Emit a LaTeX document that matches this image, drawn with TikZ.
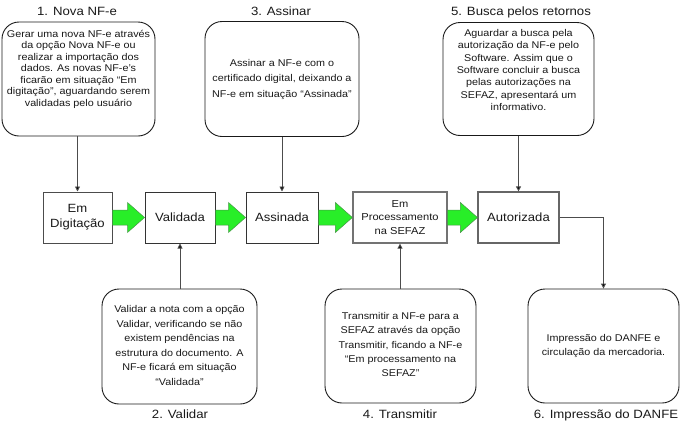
\documentclass[tikz,border=0pt]{standalone}
\usepackage{fontspec}
\setmainfont{Liberation Sans}[FakeStretch=1.1]
\usetikzlibrary{arrows.meta,calc}
\definecolor{arrowgreen}{RGB}{40,238,40}
\definecolor{arrowedge}{RGB}{70,150,70}
\definecolor{txt}{RGB}{25,25,25}
\tikzset{
  roundbox/.style={draw=black!90, line width=0.9pt, rounded corners=17pt, inner sep=0pt},
  statebox/.style={draw=black!80, line width=1pt, fill=white, align=center, inner sep=0pt,
                   text=txt, font=\fontsize{11.9}{15}\selectfont, minimum height=51pt},
  bodytext/.style={align=center, text=txt, inner sep=0pt},
  titletext/.style={anchor=base, text=txt, font=\fontsize{12}{14}\selectfont, inner sep=0pt},
  conn/.style={draw=black!70, line width=0.9pt, -{Triangle[length=5pt,width=5pt,fill=black]}},
  garrow/.style={fill=arrowgreen, draw=arrowedge, line width=0.5pt}
}
\newcommand{\greenarr}[2]{%
  \filldraw[garrow] ($(#1.east)+(0,-7.5)$) -- ($(#2.west)+(-17,-7.5)$) -- ($(#2.west)+(-17,-15)$)
    -- (#2.west) -- ($(#2.west)+(-17,15)$) -- ($(#2.west)+(-17,7.5)$) -- ($(#1.east)+(0,7.5)$) -- cycle;}
\begin{document}
\begin{tikzpicture}[x=1pt,y=-1pt]
\useasboundingbox (0,0) rectangle (681,426);

% titles
\node[titletext] (ti1) at (77,15) {1. Nova NF-e};
\node[titletext] (ti3) at (281,15) {3. Assinar};
\node[titletext] (ti5) at (521,15) {5. Busca pelos retornos};
\node[titletext] (ti2) at (180,418) {2. Validar};
\node[titletext] (ti4) at (400,418) {4. Transmitir};
\node[titletext] (ti6) at (606,418) {6. Impressão do DANFE};

% top boxes
\node[roundbox, minimum width=153pt, minimum height=114pt] (b1) at (78.5,79) {};
\node[bodytext, font=\fontsize{9.8}{11.5}\selectfont] (b1t) at (78.5,69) {Gerar uma nova NF-e através\\da opção Nova NF-e ou\\realizar a importação dos\\dados. As novas NF-e’s\\ficarão em situação “Em\\digitação”, aguardando serem\\validadas pelo usuário};
\node[roundbox, minimum width=154pt, minimum height=115pt] (b3) at (282,79) {};
\node[bodytext, font=\fontsize{9.8}{15.5}\selectfont] (b3t) at (282,79) {Assinar a NF-e com o\\certificado digital, deixando a\\NF-e em situação “Assinada”};
\node[roundbox, minimum width=151pt, minimum height=113pt] (b5) at (518.5,79) {};
\node[bodytext, font=\fontsize{9.8}{12.3}\selectfont] (b5t) at (518.5,70) {Aguardar a busca pela\\autorização da NF-e pelo\\Software. Assim que o\\Software concluir a busca\\pelas autorizações na\\SEFAZ, apresentará um\\informativo.};

% bottom boxes
\node[roundbox, minimum width=155pt, minimum height=115pt] (b2) at (179.5,346.5) {};
\node[bodytext, font=\fontsize{9.8}{14.5}\selectfont] (b2t) at (179.5,345.5) {Validar a nota com a opção\\Validar, verificando se não\\existem pendências na\\estrutura do documento. A\\NF-e ficará em situação\\“Validada”};
\node[roundbox, minimum width=151pt, minimum height=114pt] (b4) at (400.5,346) {};
\node[bodytext, font=\fontsize{9.8}{14.2}\selectfont] (b4t) at (400.5,344.5) {Transmitir a NF-e para a\\SEFAZ através da opção\\Transmitir, ficando a NF-e\\“Em processamento na\\SEFAZ”};
\node[roundbox, minimum width=151pt, minimum height=114pt] (b6) at (603.5,346) {};
\node[bodytext, font=\fontsize{9.8}{14}\selectfont] (b6t) at (603.5,346) {Impressão do DANFE e\\circulação da mercadoria.};

% state boxes
\node[statebox, minimum width=69pt, draw=black!70] (dig) at (77.5,217.5) {Em\\Digitação};
\node[statebox, minimum width=70pt] (val) at (180,217.5) {Validada};
\node[statebox, minimum width=72pt] (ass) at (282,217.5) {Assinada};
\node[statebox, minimum width=94pt, draw=black!55, line width=1.3pt, font=\fontsize{10.1}{13.3}\selectfont] (proc) at (400,217.5) {Em\\Processamento\\na SEFAZ};
\node[statebox, minimum width=81pt, draw=black!60, line width=1.2pt] (aut) at (518.5,217.5) {Autorizada};

% green flow arrows
\greenarr{dig}{val}
\greenarr{val}{ass}
\greenarr{ass}{proc}
\greenarr{proc}{aut}

% connectors
\draw[conn] (b1.south -| dig.north) -- (dig.north);
\draw[conn] (b3.south -| ass.north) -- (ass.north);
\draw[conn] (b5.south -| aut.north) -- (aut.north);
\draw[conn] (b2.north -| val.south) -- (val.south);
\draw[conn] (b4.north -| proc.south) -- (proc.south);
\draw[conn] (aut.east) -| (b6.north);
\end{tikzpicture}
\end{document}
